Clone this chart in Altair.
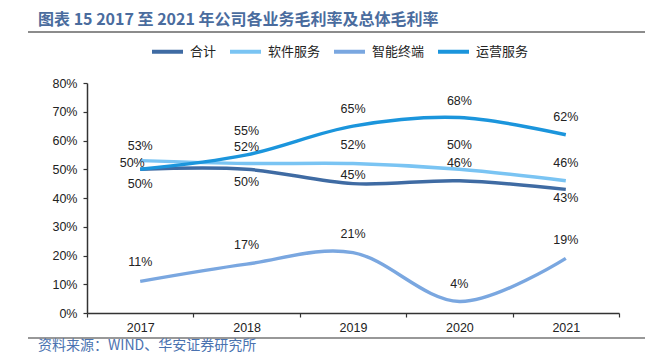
import altair as alt
import pandas as pd

years = ["2017", "2018", "2019", "2020", "2021"]
series_names = ["合计", "软件服务", "智能终端", "运营服务"]
total = [50, 50, 45, 46, 43]
software = [53, 52, 52, 50, 46]
terminal = [11, 17, 21, 4, 19]
operation = [50, 55, 65, 68, 62]
colors = ["#3f6ba3", "#7ac4f3", "#7aa7e0", "#1b95dc"]

# label placement (pixels, styling only)
label_dy = {
    "合计": [15, 13, -9, -18, 9],
    "软件服务": [-15, -17, -19, -24, -18],
    "智能终端": [-19, -19, -19, -18, -18],
    "运营服务": [-6, -24, -17, -17, -18],
}
label_dx = {"运营服务": [-8, 0, 0, 0, 0]}

values = {"合计": total, "软件服务": software, "智能终端": terminal, "运营服务": operation}
rows = []
for s in series_names:
    for i, y in enumerate(years):
        rows.append({
            "year": y, "series": s, "value": values[s][i],
            "label": f"{values[s][i]}%",
            "dy": label_dy[s][i],
            "dx": label_dx.get(s, [0] * 5)[i],
        })
df = pd.DataFrame(rows)

W, H = 532, 230
PL, PT = 87, 83

xscale = alt.Scale(type="band", domain=years, paddingInner=0, paddingOuter=0)
xaxis = alt.Axis(
    title=None, labelAngle=0, tickBand="extent", tickSize=4,
    labelPadding=4, labelFont="Liberation Sans", labelFontSize=12.5,
    labelColor="#222222", domainColor="#333333", tickColor="#333333",
    domainWidth=1.5, tickWidth=1.2, grid=False,
)
yscale = alt.Scale(domain=[0, 80], nice=False)
yaxis = alt.Axis(
    title=None, values=[0, 10, 20, 30, 40, 50, 60, 70, 80],
    labelOverlap=False,
    labelExpr="datum.value + '%'", tickSize=4, labelPadding=6,
    labelFont="Liberation Sans", labelFontSize=12.5, labelColor="#222222",
    domainColor="#333333", tickColor="#333333", domainWidth=1.5,
    tickWidth=1.2, grid=False,
)

color_enc = alt.Color(
    "series:N",
    scale=alt.Scale(domain=series_names, range=colors),
    sort=series_names,
    legend=alt.Legend(
        title=None, orient="none", direction="horizontal",
        legendX=63, legendY=-49, symbolType="stroke", symbolSize=961,
        symbolStrokeWidth=4, labelFont="Noto Sans CJK SC", labelFontSize=13,
        labelColor="#222222", labelOffset=5, columnPadding=5,
        gridAlign="each",
    ),
)

lines = alt.Chart(df).mark_line(interpolate="cardinal", strokeWidth=3.5).encode(
    x=alt.X("year:O", scale=xscale, bandPosition=0.5, axis=xaxis),
    y=alt.Y("value:Q", scale=yscale, axis=yaxis),
    color=color_enc, detail="series:N",
)

label_layers = []
for (dx, dy), sub in df.groupby(["dx", "dy"]):
    label_layers.append(
        alt.Chart(sub).mark_text(
            font="Liberation Sans", fontSize=12.5, color="#222222",
            baseline="middle", dx=int(dx), dy=int(dy),
        ).encode(
            x=alt.X("year:O", scale=xscale, bandPosition=0.5, axis=xaxis),
            y=alt.Y("value:Q", scale=yscale, axis=yaxis),
            text="label:N",
        )
    )

one = pd.DataFrame({"a": [0]})
title = alt.Chart(one).mark_text(
    text="图表 15 2017 至 2021 年公司各业务毛利率及总体毛利率",
    font="Noto Sans CJK SC", fontSize=16, fontWeight="bold",
    color="#4a6c9e", align="left", baseline="middle",
).encode(x=alt.value(38 - PL), y=alt.value(20 - PT))

top_rule = alt.Chart(one).mark_rule(color="#666666", strokeWidth=1.5).encode(
    x=alt.value(28 - PL), x2=alt.value(645 - PL), y=alt.value(32 - PT)
)
bottom_rule = alt.Chart(one).mark_rule(color="#333333", strokeWidth=1.2).encode(
    x=alt.value(28 - PL), x2=alt.value(645 - PL), y=alt.value(338 - PT)
)
source = alt.Chart(one).mark_text(
    text="资料来源：WIND、华安证券研究所",
    font="Noto Sans CJK SC", fontSize=14, color="#4a72b0",
    align="left", baseline="middle",
).encode(x=alt.value(38 - PL), y=alt.value(346 - PT))

chart = alt.layer(lines, *label_layers, title, top_rule, bottom_rule, source).properties(
    width=W, height=H,
    autosize=alt.AutoSizeParams(type="none"),
    padding={"left": PL, "top": PT, "right": 661 - PL - W, "bottom": 354 - PT - H},
    background="white",
).configure_view(stroke=None)

chart.save("out.html", embed_options={"renderer": "svg", "actions": False})
